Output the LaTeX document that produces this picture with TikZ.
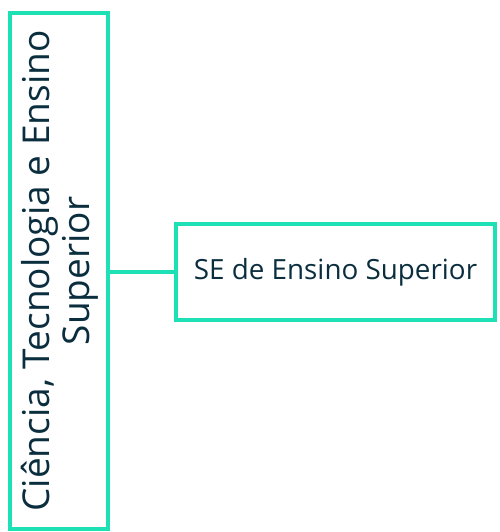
\documentclass[tikz,border=0pt]{standalone}
\usepackage{fontspec}
\setmainfont{Open Sans}
\definecolor{teal}{HTML}{1DE0B5}
\definecolor{navy}{HTML}{0B2E3F}
\begin{document}
\begin{tikzpicture}[x=1pt,y=-1pt,
  box/.style={draw=teal,line width=4.5pt,inner sep=0pt},
  conn/.style={draw=teal,line width=4.5pt}]
\useasboundingbox (0,0) rectangle (499,532);
\node[box,minimum width=98pt,minimum height=516pt] (L) at (59,271) {};
\node[text=navy,font=\fontsize{37}{40}\selectfont,rotate=90,align=center,inner sep=0pt] (Lt) at (60,271) {Ciência, Tecnologia e Ensino\\Superior};
\node[box,minimum width=319pt,minimum height=96pt] (R) at (335.5,272) {};
\node[text=navy,font=\fontsize{27.8}{32}\selectfont] (Rt) at (R.center) {SE de Ensino Superior};
\draw[conn] (L.east |- R.west) -- (R.west);
\end{tikzpicture}
\end{document}
